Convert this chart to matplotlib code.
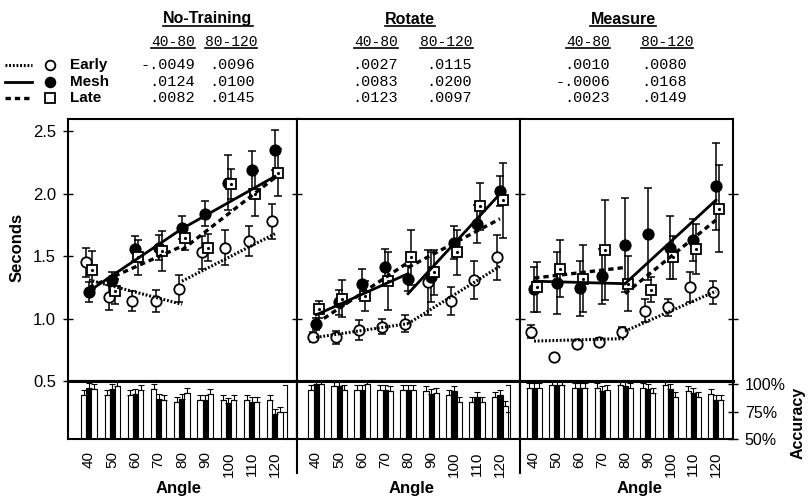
import matplotlib
matplotlib.use("Agg")
import matplotlib.pyplot as plt
from matplotlib.lines import Line2D

plt.rcParams['font.family'] = ['Liberation Sans', 'DejaVu Sans']

W, H = 809, 501

angles = [40, 50, 60, 70, 80, 90, 100, 110, 120]
panel_names = ['No-Training', 'Rotate', 'Measure']
group_names = ['Early', 'Mesh', 'Late']

# mean response time (seconds) and error bars
nt_early = [1.45, 1.17, 1.14, 1.14, 1.24, 1.53, 1.57, 1.62, 1.78]
nt_early_err = [0.12, 0.10, 0.08, 0.09, 0.11, 0.13, 0.14, 0.12, 0.14]
nt_mesh = [1.21, 1.31, 1.56, 1.57, 1.73, 1.84, 2.09, 2.19, 2.35]
nt_mesh_err = [0.08, 0.06, 0.10, 0.10, 0.09, 0.10, 0.22, 0.15, 0.16]
nt_late = [1.39, 1.22, 1.49, 1.54, 1.65, 1.57, 2.08, 2.00, 2.17]
nt_late_err = [0.15, 0.10, 0.14, 0.16, 0.10, 0.11, 0.12, 0.18, 0.19]

ro_early = [0.85, 0.85, 0.91, 0.935, 0.96, 1.29, 1.14, 1.31, 1.49]
ro_early_err = [0.04, 0.05, 0.08, 0.06, 0.07, 0.26, 0.11, 0.15, 0.18]
ro_mesh = [0.955, 1.13, 1.28, 1.41, 1.32, 1.33, 1.61, 1.76, 2.02]
ro_mesh_err = [0.05, 0.10, 0.12, 0.15, 0.10, 0.20, 0.13, 0.15, 0.12]
ro_late = [1.075, 1.16, 1.18, 1.30, 1.49, 1.37, 1.53, 1.90, 1.95]
ro_late_err = [0.07, 0.15, 0.12, 0.23, 0.22, 0.18, 0.18, 0.19, 0.30]

me_early = [0.895, 0.69, 0.80, 0.815, 0.89, 1.065, 1.09, 1.25, 1.21]
me_early_err = [0.05, 0.01, 0.03, 0.03, 0.04, 0.09, 0.07, 0.12, 0.09]
me_mesh = [1.236, 1.285, 1.245, 1.34, 1.59, 1.68, 1.57, 1.63, 2.06]
me_mesh_err = [0.18, 0.25, 0.22, 0.22, 0.38, 0.37, 0.25, 0.17, 0.35]
me_late = [1.25, 1.40, 1.32, 1.55, 1.28, 1.23, 1.49, 1.56, 1.88]
me_late_err = [0.20, 0.23, 0.27, 0.40, 0.22, 0.10, 0.17, 0.20, 0.35]

# fitted lines: value at 40, at 80 (first fit), at 80 (second fit), at 120
nt_early_fit = [1.31, 1.115, 1.30, 1.68]
nt_mesh_fit = [1.22, 1.72, 1.72, 2.14]
nt_late_fit = [1.25, 1.58, 1.55, 2.13]
ro_early_fit = [0.85, 0.96, 0.96, 1.42]
ro_mesh_fit = [1.03, 1.36, 1.20, 2.00]
ro_late_fit = [0.96, 1.45, 1.41, 1.80]
me_early_fit = [0.82, 0.84, 0.90, 1.22]
me_mesh_fit = [1.30, 1.28, 1.28, 1.95]
me_late_fit = [1.325, 1.41, 1.20, 1.79]

# accuracy (%)
nt_early_acc = [90, 90, 90, 96, 84, 86, 86, 86, 86]
nt_mesh_acc = [97, 96, 91, 87, 87, 86, 83, 84, 73]
nt_late_acc = [96, 98.5, 95, 86, 92, 91, 86, 84, 75]
ro_early_acc = [95, 98, 95, 95, 95, 94, 90, 84, 88]
ro_mesh_acc = [100, 98.5, 95, 95, 95, 91, 94, 88, 90]
ro_late_acc = [100, 95, 100, 94, 95, 92, 84, 84, 80]
me_early_acc = [97, 99, 97, 97, 99, 97, 99, 94, 91]
me_mesh_acc = [97, 99, 97, 94, 98.5, 96, 96, 92, 86]
me_late_acc = [97, 99, 97, 95, 97, 92, 88, 88, 86]
acc_err = 4.5

# slopes printed above each panel (Early, Mesh, Late)
slopes_4080 = [['-.0049', '.0124', '.0082'], ['.0027', '.0083', '.0123'], ['.0010', '-.0006', '.0023']]
slopes_80120 = [['.0096', '.0100', '.0145'], ['.0115', '.0200', '.0097'], ['.0080', '.0168', '.0149']]

rt = [[nt_early, nt_mesh, nt_late], [ro_early, ro_mesh, ro_late], [me_early, me_mesh, me_late]]
rt_err = [[nt_early_err, nt_mesh_err, nt_late_err], [ro_early_err, ro_mesh_err, ro_late_err],
          [me_early_err, me_mesh_err, me_late_err]]
fits = [[nt_early_fit, nt_mesh_fit, nt_late_fit], [ro_early_fit, ro_mesh_fit, ro_late_fit],
        [me_early_fit, me_mesh_fit, me_late_fit]]
acc = [[nt_early_acc, nt_mesh_acc, nt_late_acc], [ro_early_acc, ro_mesh_acc, ro_late_acc],
       [me_early_acc, me_mesh_acc, me_late_acc]]

# layout (pixels)
lefts = [68, 297, 520]
rights = [297, 520, 733]
xlims = [(31, 129.5), (31.7, 128.7), (33.8, 127.5)]
pt_off = [-1.3, 0, 1.3]
bar_off = [-2.2, 0, 2.2]
bar_w = 2.2
line_styles = [dict(color='k', lw=2.2, ls=(0, (0.6, 0.6))),
               dict(color='k', lw=2.0, ls='-'),
               dict(color='k', lw=2.4, ls=(0, (1.6, 1.2)))]
markers = [dict(marker='o', mfc='white'), dict(marker='o', mfc='black'), dict(marker='s', mfc='white')]
bar_colors = ['white', 'black', 'white']


def box(l, t, r, b):
    return [l / W, 1 - b / H, (r - l) / W, (b - t) / H]


fig = plt.figure(figsize=(W / 100, H / 100), dpi=100)

for i in range(3):
    ax = fig.add_axes(box(lefts[i], 119, rights[i], 381))
    ax.set_xlim(xlims[i])
    ax.set_ylim(0.5, 2.6)
    ax.set_xticks([])
    for s in ax.spines.values():
        s.set_linewidth(1.5)
    if i == 0:
        ax.set_yticks([0.5, 1.0, 1.5, 2.0, 2.5])
        ax.set_yticklabels(['0.5', '1.0', '1.5', '2.0', '2.5'], fontsize=12)
    else:
        ax.set_yticks([1.0, 2.0])
        ax.tick_params(labelleft=False)
    ax.tick_params(axis='y', direction='inout', length=7, width=1, pad=5, right=(i == 2))

    for g in range(3):
        f = fits[i][g]
        ax.plot([40, 80], [f[0], f[1]], zorder=5, **line_styles[g])
        ax.plot([80, 120], [f[2], f[3]], zorder=5, **line_styles[g])
        x = [a + pt_off[g] for a in angles]
        ax.errorbar(x, rt[i][g], yerr=rt_err[i][g], fmt='none', ecolor='k',
                    elinewidth=1.1, capsize=3, capthick=1.1, zorder=3)
        ax.plot(x, rt[i][g], ls='none', ms=7.5, mec='k', mew=1.3, zorder=4, **markers[g])
        if g == 2:
            ax.plot(x, rt[i][g], ls='none', marker='.', ms=2.5, color='k', zorder=4)

    bx = fig.add_axes(box(lefts[i], 381, rights[i], 439))
    bx.set_xlim(xlims[i])
    bx.set_ylim(50, 103)
    for s in bx.spines.values():
        s.set_linewidth(1.5)
    bx.spines['top'].set_linewidth(2.2)
    for g in range(3):
        x = [a + bar_off[g] for a in angles]
        bx.bar(x, [v - 50 for v in acc[i][g]], bottom=50, width=bar_w, color=bar_colors[g],
               edgecolor='k', lw=0.8, yerr=[[0] * 9, [acc_err] * 9], capsize=2,
               error_kw=dict(elinewidth=0.8, capthick=0.8))
    bx.set_xticks(angles)
    bx.set_xticklabels([str(a) for a in angles], rotation=90, fontsize=11)
    bx.tick_params(axis='x', length=0, pad=9)
    bx.yaxis.tick_right()
    if i == 2:
        bx.set_yticks([50, 75, 100])
        bx.set_yticklabels(['50%', '75%', '100%'], fontsize=11.5)
        bx.tick_params(axis='y', direction='inout', length=7, width=1, pad=5)
    else:
        bx.set_yticks([])
        # small accuracy scale drawn just inside the divider
        xs = (rights[i] - 10) / W
        fig.add_artist(Line2D([xs, xs], [1 - 385 / H, 1 - 439 / H], color='k', lw=0.8))
        for ty in [385, 412]:
            fig.add_artist(Line2D([xs - 4 / W, xs], [1 - ty / H] * 2, color='k', lw=0.8))

    fig.text([179, 412, 640][i] / W, 1 - 488 / H, 'Angle', ha='center', va='center',
             fontsize=12, weight='bold')

# long dividers between panels below the bars
for xd in [297, 520]:
    fig.add_artist(Line2D([xd / W, xd / W], [1 - 381 / H, 1 - 473 / H], color='k', lw=1.5))

fig.text(17 / W, 1 - 247 / H, 'Seconds', rotation=90, ha='center', va='center',
         fontsize=12, weight='bold')
fig.text(798 / W, 1 - 423 / H, 'Accuracy', rotation=90, ha='center', va='center',
         fontsize=11.5, weight='bold')

# legend on the left
row_y = [65, 82, 98]
for g in range(3):
    yy = 1 - row_y[g] / H
    fig.add_artist(Line2D([5 / W, 32 / W], [yy, yy], **line_styles[g]))
    fig.add_artist(Line2D([50 / W], [yy], ls='none', ms=7, mec='k', mew=1.3, **markers[g]))
    fig.text(70 / W, yy, group_names[g], ha='left', va='center', fontsize=11, weight='bold')

# slope table
title_x = [208, 410, 623]
hdr_right = [[195, 257], [398, 473], [610, 693]]
val_right = [[195, 255], [398, 472], [610, 687]]
underlined = []
for i in range(3):
    t = fig.text(title_x[i] / W, 1 - 19 / H, panel_names[i], ha='center', va='center',
                 fontsize=11.5, weight='bold')
    underlined.append(t)
    for c, lab in enumerate(['40-80', '80-120']):
        t = fig.text(hdr_right[i][c] / W, 1 - 42 / H, lab, ha='right', va='center',
                     fontsize=10.5, family='Liberation Mono')
        underlined.append(t)
    for g in range(3):
        fig.text(val_right[i][0] / W, 1 - row_y[g] / H, slopes_4080[i][g], ha='right',
                 va='center', fontsize=11, family='Liberation Mono')
        fig.text(val_right[i][1] / W, 1 - row_y[g] / H, slopes_80120[i][g], ha='right',
                 va='center', fontsize=11, family='Liberation Mono')

fig.canvas.draw()
for t in underlined:
    bb = t.get_window_extent()
    fig.add_artist(Line2D([bb.x0 / W, bb.x1 / W], [(bb.y0 + 1) / H] * 2, color='k', lw=1.2))

fig.savefig('out.png', dpi=100)
